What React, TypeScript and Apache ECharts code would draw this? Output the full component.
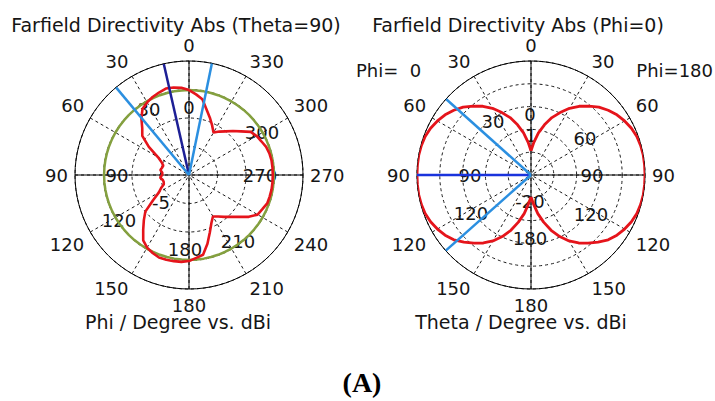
import React, { useEffect, useRef } from "react";
import * as echarts from "echarts";

// ---------- data ----------
// Left plot: Theta = 90 cut, phi in degrees (counter-clockwise from top)
const phiAngles = [
  0, 5, 10, 15, 20, 25, 30, 35, 40, 45, 50, 55, 60, 65, 70, 75, 80, 85, 90,
  95, 100, 105, 110, 115, 120, 125, 130, 135, 140, 145, 150, 155, 160, 165,
  170, 175, 180, 185, 190, 195, 200, 205, 210, 215, 220, 225, 230, 235, 240,
  245, 250, 255, 260, 265, 270, 275, 280, 285, 290, 295, 300, 305, 310, 315,
  320, 325, 330, 335, 340, 345, 350, 355, 360,
];
const phiDirectivity = [
  -0.1, 0.35, 0.6, 0.7, 0.4, 0.1, -0.3, -0.8, -2.0, -3.4, -4.3, -6.4, -8.7,
  -9.7, -10.2, -10.1, -9.9, -10.3, -10.3, -9.9, -10.3, -10.4, -10.3, -9.6,
  -8.9, -7.3, -5.0, -3.8, -2.5, -1.0, -0.3, 0.1, 0.4, 0.4, 0.35, 0.3, 0.1,
  -0.4, -0.8, -2.5, -4.3, -5.7, -6.6, -6.1, -5.4, -4.6, -3.6, -2.2, -1.1,
  -0.8, -0.4, -0.35, -0.3, -0.3, -0.3, -0.3, -0.3, -0.4, -0.6, -1.0, -1.3,
  -1.8, -3.1, -4.1, -5.0, -5.7, -6.4, -5.4, -4.3, -3.1, -1.5, -0.8, -0.1,
];
const phiReferenceLevel = -0.1; // green circle
const phiMainLobe = 12.8;
const phiHalfPower = [39.8, 348.4];
const phiRadial = { min: -15, max: 5, step: 5 };

// Right plot: Phi = 0 cut, theta in degrees
const thetaAngles = [
  0, 5, 10, 15, 20, 25, 30, 35, 40, 45, 50, 55, 60, 65, 70, 75, 80, 85, 90,
  95, 100, 105, 110, 115, 120, 125, 130, 135, 140, 145, 150, 155, 160, 165,
  170, 175, 180,
];
const thetaDirPhi0 = [
  -14.7, -12.8, -10.6, -8.6, -6.6, -4.9, -3.1, -1.6, -0.3, 1.05, 2.1, 3.0, 3.7,
  4.3, 4.7, 4.9, 5.0, 5.0, 5.0, 5.0, 5.0, 4.9, 4.7, 4.3, 3.7, 3.0, 2.1, 0.8,
  -0.5, -1.8, -3.3, -5.1, -7.1, -9.3, -11.4, -13.6, -15.2,
];
const thetaDirPhi180 = [
  -14.7, -12.8, -10.6, -8.6, -6.6, -4.9, -3.1, -1.6, -0.3, 1.05, 2.1, 3.0, 3.7,
  4.3, 4.7, 4.9, 5.0, 5.0, 5.0, 5.0, 5.0, 4.9, 4.7, 4.3, 3.7, 3.0, 2.1, 0.8,
  -0.5, -1.8, -3.3, -5.1, -7.1, -9.3, -11.4, -13.6, -15.2,
];
const thetaMainLobe = 90;
const thetaHalfPower = [48.2, 131.6];
const thetaRadial = { min: -20, max: 5, step: 5 };

const leftInnerLabels = ["0", "30", "300", "90", "270", "-5", "120", "180", "210"];
const rightInnerLabels = ["0", "1", "30", "60", "90", "90", "120", "120", "-20", "180"];

// ---------- styling ----------
const FONT = "DejaVu Sans";
const TXT = "#151515";
const RED = "#e5141b";
const GREEN = "#84a03f";
const NAVY = "#1d1f95";
const LIGHTBLUE = "#2b8fe0";
const BLUE = "#1a33dc";

function mainAngleAxis(polarIndex: number, formatter?: (v: number) => string) {
  return {
    polarIndex,
    type: "value",
    min: 0,
    max: 360,
    interval: 30,
    startAngle: 90,
    clockwise: false,
    axisLine: { show: true, lineStyle: { color: "#000", width: 1 } },
    axisTick: { show: false },
    axisLabel: {
      show: true,
      margin: 7,
      fontFamily: FONT,
      fontSize: 18,
      color: TXT,
      formatter: formatter || ((v: number) => String(v)),
    },
    splitLine: { show: true, lineStyle: { color: "#1a1a1a", width: 1, type: [3, 3] } },
  };
}
function crossAngleAxis(polarIndex: number) {
  return {
    polarIndex,
    type: "value",
    min: 0,
    max: 360,
    interval: 90,
    startAngle: 90,
    clockwise: false,
    axisLine: { show: false },
    axisTick: { show: false },
    axisLabel: { show: false },
    splitLine: { show: true, lineStyle: { color: "#000", width: 1 } },
  };
}
function radAxis(polarIndex: number, r: { min: number; max: number; step: number }, rings: boolean) {
  return {
    polarIndex,
    type: "value",
    min: r.min,
    max: r.max,
    interval: r.step,
    axisLine: { show: false },
    axisTick: { show: false },
    axisLabel: { show: false },
    splitLine: { show: rings, lineStyle: { color: "#1a1a1a", width: 1, type: [3, 3] } },
  };
}
function txt(text: string, x: number, y: number, size = 18, align = "center", extra: any = {}) {
  return {
    type: "text",
    x,
    y,
    z: 1,
    style: {
      text,
      fontFamily: FONT,
      fontSize: size,
      fill: TXT,
      align,
      verticalAlign: "middle",
      ...extra,
    },
  };
}

const leftInnerPos = [
  [189, 107], [149, 109], [262, 132], [117, 175], [260, 175], [161, 202],
  [119, 220], [185, 249], [238, 241],
];
const rightInnerPos = [
  [530, 114], [531, 135], [493, 121], [585, 138], [470, 175], [592, 175],
  [471, 213], [591, 214], [530, 201], [530, 238],
];

function buildOption() {
  const lineBase = { type: "line", symbol: "none", silent: true, animation: false };
  const series: any[] = [
    {
      ...lineBase,
      coordinateSystem: "polar",
      polarIndex: 0,
      z: 4,
      lineStyle: { color: GREEN, width: 2.5 },
      data: phiAngles.map((a) => [phiReferenceLevel, a]),
    },
    {
      ...lineBase,
      coordinateSystem: "polar",
      polarIndex: 0,
      z: 5,
      lineStyle: { color: RED, width: 2.6 },
      data: phiAngles.map((a, i) => [phiDirectivity[i], a]),
    },
    {
      ...lineBase,
      coordinateSystem: "polar",
      polarIndex: 0,
      z: 6,
      lineStyle: { color: NAVY, width: 2.5 },
      data: [[phiRadial.min, phiMainLobe], [phiRadial.max, phiMainLobe]],
    },
    ...phiHalfPower.map((a) => ({
      ...lineBase,
      coordinateSystem: "polar",
      polarIndex: 0,
      z: 6,
      lineStyle: { color: LIGHTBLUE, width: 2.5 },
      data: [[phiRadial.min, a], [phiRadial.max, a]],
    })),
    {
      ...lineBase,
      coordinateSystem: "polar",
      polarIndex: 2,
      z: 5,
      lineStyle: { color: RED, width: 2.8 },
      data: thetaAngles.map((a, i) => [thetaDirPhi0[i], a]),
    },
    {
      ...lineBase,
      coordinateSystem: "polar",
      polarIndex: 2,
      z: 5,
      lineStyle: { color: RED, width: 2.8 },
      data: thetaAngles.map((a, i) => [thetaDirPhi180[i], 360 - a]),
    },
    {
      ...lineBase,
      coordinateSystem: "polar",
      polarIndex: 2,
      z: 6,
      lineStyle: { color: BLUE, width: 2.5 },
      data: [[thetaRadial.min, thetaMainLobe], [thetaRadial.max, thetaMainLobe]],
    },
    ...thetaHalfPower.map((a) => ({
      ...lineBase,
      coordinateSystem: "polar",
      polarIndex: 2,
      z: 6,
      lineStyle: { color: LIGHTBLUE, width: 2.5 },
      data: [[thetaRadial.min, a], [thetaRadial.max, a]],
    })),
  ];

  const graphic: any[] = [
    txt("Farfield Directivity Abs (Theta=90)", 176, 25, 19),
    txt("Farfield Directivity Abs (Phi=0)", 518, 25, 19),
    txt("Phi / Degree vs. dBi", 178, 322, 19),
    txt("Theta / Degree vs. dBi", 521, 322, 19),
    txt("Phi=  0", 356, 70, 18, "left"),
    txt("Phi=180", 713, 70, 18, "right"),
    txt("(A)", 362, 382, 28, "center", { fontFamily: "Liberation Serif", fontWeight: "bold", fill: "#000" }),
    ...leftInnerLabels.map((t, i) => txt(t, leftInnerPos[i][0], leftInnerPos[i][1], 18)),
    ...rightInnerLabels.map((t, i) => txt(t, rightInnerPos[i][0], rightInnerPos[i][1], 18)),
  ];

  return {
    animation: false,
    backgroundColor: "#fff",
    polar: [
      { center: [189, 175], radius: 114 },
      { center: [189, 175], radius: 114 },
      { center: [531, 175], radius: 114 },
      { center: [531, 175], radius: 114 },
    ],
    angleAxis: [
      mainAngleAxis(0),
      crossAngleAxis(1),
      mainAngleAxis(2, (v: number) => String(v <= 180 ? v : 360 - v)),
      crossAngleAxis(3),
    ],
    radiusAxis: [
      radAxis(0, phiRadial, true),
      radAxis(1, phiRadial, false),
      radAxis(2, thetaRadial, true),
      radAxis(3, thetaRadial, false),
    ],
    series,
    graphic,
  };
}

export default function App() {
  const ref = useRef<HTMLDivElement>(null);
  useEffect(() => {
    if (!ref.current) return;
    const chart = echarts.init(ref.current, null, { renderer: "svg" });
    chart.setOption(buildOption() as any);
    return () => chart.dispose();
  }, []);
  return (
    <div
      ref={ref}
      style={{ position: "fixed", left: 0, top: 0, width: 715, height: 401, background: "#fff" }}
    />
  );
}
